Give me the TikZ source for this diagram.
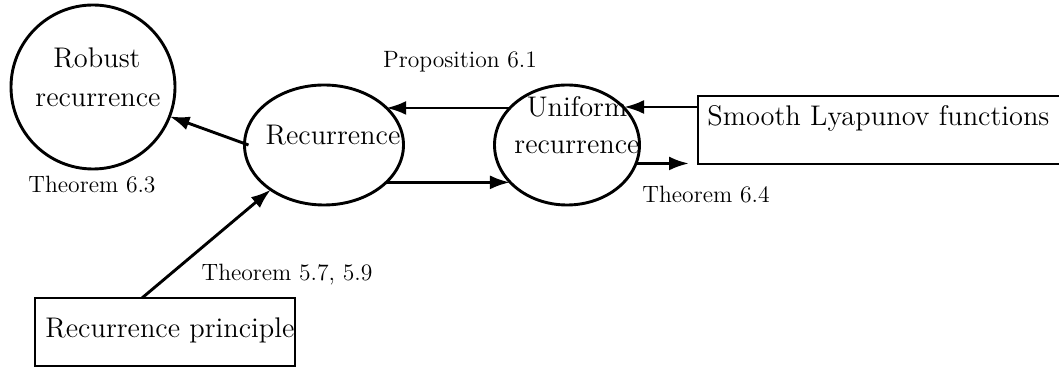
\documentclass[tikz,border=0pt]{standalone}
\usetikzlibrary{arrows.meta,shapes.geometric,calc}
\tikzset{
  shapeline/.style={draw,line width=1.45pt,inner sep=0pt,outer sep=0pt},
  bigtext/.style={inner sep=0pt,font=\fontsize{14.2}{16}\selectfont},
  smalltext/.style={inner sep=0pt,anchor=base,font=\fontsize{11.8}{14}\selectfont},
  conn/.style={line width=1.45pt,-{Latex[length=10pt,width=7pt]}}
}
\begin{document}
\begin{tikzpicture}[x=0.5pt,y=-0.5pt]
\useasboundingbox (0,0) rectangle (1059,368);
\clip (0,0) rectangle (1059,368);
% shapes
\node[shapeline,circle,minimum size=82pt] (rob) at (93,87) {};
\node[shapeline,ellipse,minimum width=79.5pt,minimum height=60pt] (rec) at (324,145) {};
\node[shapeline,ellipse,minimum width=72.5pt,minimum height=60pt] (uni) at (567,145) {};
\node[shapeline,rectangle,minimum width=191pt,minimum height=34pt] (smooth) at (889,130) {};
\node[shapeline,rectangle,minimum width=130pt,minimum height=34pt] (prin) at (165,332) {};
\coordinate (smoothin) at ([yshift=-5.5pt]smooth.north west);
% node texts
\node[bigtext,anchor=base] (robt1) at (97,68) {Robust};
\node[bigtext,anchor=base] (robt2) at (98,107) {recurrence};
\node[bigtext,anchor=base] (rect) at (333,145) {Recurrence};
\node[bigtext,anchor=base] (unit1) at (577,117) {Uniform};
\node[bigtext,anchor=base] (unit2) at (577,154) {recurrence};
\node[bigtext,anchor=base west] (smootht) at (707,126) {Smooth Lyapunov functions};
\node[bigtext,anchor=base west] (print) at (45,337) {Recurrence principle};
% labels
\node[smalltext] (l63) at (92,193) {Theorem 6.3};
\node[smalltext] (l61) at (460,68) {Proposition 6.1};
\node[smalltext] (l64) at (706,203) {Theorem 6.4};
\node[smalltext] (l57) at (287,281) {Theorem 5.7, 5.9};
% connectors
\draw[conn] ([xshift=2pt]rec.west) -- (rob.-21);
\draw[conn] (uni.147) -- (rec.31 |- uni.147);
\draw[conn] (rec.-31) -- (uni.213 |- rec.-31);
\draw[conn] (smoothin) -- (uni.33 |- smoothin);
\draw[conn,shorten >=4.5pt] (uni.-15) -- (uni.-15 -| smooth.west);
\draw[conn] ([xshift=53.5pt]prin.north west) -- (rec.220);
\end{tikzpicture}
\end{document}
